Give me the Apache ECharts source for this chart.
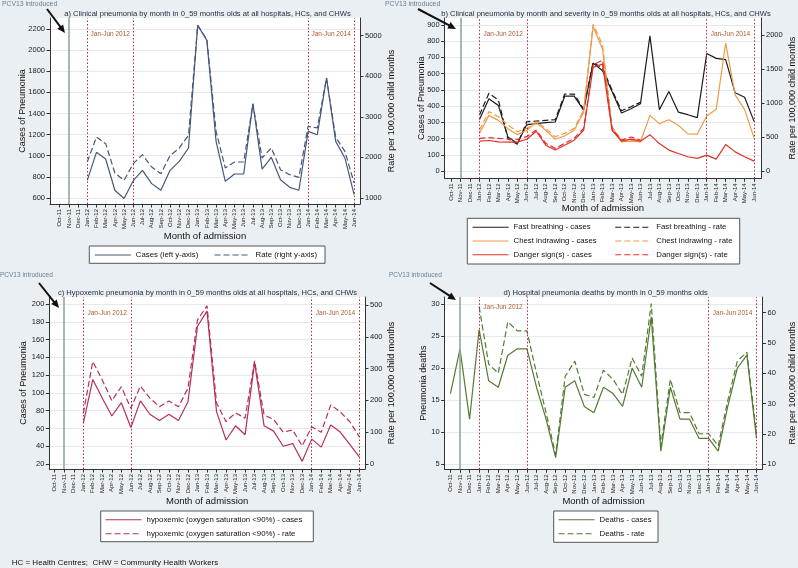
<!DOCTYPE html>
<html><head><meta charset="utf-8">
<script src="https://cdn.jsdelivr.net/npm/echarts@6/dist/echarts.min.js"></script>
<style>html,body{margin:0;padding:0;background:#e9eff3}#c{width:798px;height:568px}</style>
</head><body><div id="c"></div>
<script>
// ---------- DATA ----------
const months = ['Oct-11','Nov-11','Dec-11','Jan-12','Feb-12','Mar-12','Apr-12','May-12','Jun-12','Jul-12','Aug-12','Sep-12','Oct-12','Nov-12','Dec-12','Jan-13','Feb-13','Mar-13','Apr-13','May-13','Jun-13','Jul-13','Aug-13','Sep-13','Oct-13','Nov-13','Dec-13','Jan-14','Feb-14','Mar-14','Apr-14','May-14','Jun-14'];
const pcvMonth = 'Nov-11';
const periodMonths = [['Jan-12','Jun-12','Jan-Jun 2012'],['Jan-14','Jun-14','Jan-Jun 2014']];

// a) clinical pneumonia
const aCases = [null,null,null,767,1032,969,673,595,764,862,736,673,862,947,1073,2234,2092,1136,758,827,827,1493,874,985,773,701,673,1231,1199,1736,1136,979,632];
const aRate  = [null,null,null,1887,2504,2339,1616,1435,1846,2068,1764,1600,2044,2233,2545,5256,4903,2643,1740,1887,1887,3317,1986,2233,1698,1575,1509,2767,2726,3958,2495,2150,1370];
// b) by severity
const bFastCases  = [null,null,null,318,445,404,210,169,286,292,298,302,461,461,375,665,618,490,357,384,414,833,378,490,363,347,329,724,694,686,482,455,306];
const bFastRate   = [null,null,null,824,1142,1044,480,392,725,735,745,755,1132,1132,912,1598,1510,1191,887,946,1010];
const bChestCases = [null,null,null,231,343,312,261,224,251,298,251,196,216,251,363,890,751,261,180,184,180,343,292,316,282,229,227,339,380,788,469,378,204];
const bChestRate  = [null,null,null,603,873,799,676,578,627,725,627,505,554,627,897,2157,1853,652,446,456,446];
const bDangerCases= [null,null,null,184,188,180,178,178,196,245,159,129,159,190,251,639,659,251,184,196,184,224,169,129,108,88,78,98,73,163,118,88,61];
const bDangerRate = [null,null,null,480,490,480,470,466,505,603,407,333,407,480,627,1559,1632,627,456,500,456];
// c) hypoxemic
const cCases = [null,null,null,66,115,94,74,89,61,91,76,69,76,69,90,175,192,79,47,63,53,134,63,57,40,43,23,48,39,64,56,42,28];
const cRate  = [null,null,null,159,322,264,199,243,175,245,207,180,198,180,238,453,497,192,133,161,144,324,154,140,100,107,57,117,100,186,164,133,86];
// d) deaths
const dCases = [16,23,12,26,18,17,22,23,23,17,12,6,17,18,14,13,17,16,14,20,17,28,7,17,12,12,9,9,7,14,20,22,9];
const dRate  = [null,null,null,62,43,40,57,54,54,40,27,13,39,44,33,32,41,38,33,45,39,63,16,38,27,27,20,20,16,31,44,47,20];

// tick values
const aLeftTicks  = [600,800,1000,1200,1400,1600,1800,2000,2200];
const aRightTicks = [1000,2000,3000,4000,5000];
const bLeftTicks  = [0,100,200,300,400,500,600,700,800,900];
const bRightTicks = [0,500,1000,1500,2000];
const cLeftTicks  = [20,40,60,80,100,120,140,160,180,200];
const cRightTicks = [0,100,200,300,400,500];
const dLeftTicks  = [5,10,15,20,25,30];
const dRightTicks = [10,20,30,40,50,60];

// ---------- STYLE / LAYOUT ----------
const FONT = '"Liberation Sans", Arial, Helvetica, sans-serif';
const colA = '#47587a', colFast = '#1c1c1c', colChest = '#ef9a45', colDanger = '#e0302b', colC = '#b3305c', colD = '#557a34';
const DASH = [6,3];
const idx = months.map((m,i)=>i);
const pts = arr => arr.map((v,i)=>[i, v]);

const grids = [
  {left:50,    top:18,  width:310,   height:186},
  {left:444.7, top:18,  width:318.3, height:160.3},
  {left:49.3,  top:297, width:315.7, height:172},
  {left:444.7, top:297, width:323.3, height:172.3}
];
const xRange = [[-1.05,32.64],[-0.67,32.73],[-0.57,32.6],[-0.6,32.63]];
const yL = [[543,2304],[-45,943],[14.4,207.9],[4.17,31.1]];
const yR = [[852,5436],[-107,2250],[-15.7,525],[8.25,65.2]];
const leftTicks = [aLeftTicks,bLeftTicks,cLeftTicks,dLeftTicks];
const rightTicks = [aRightTicks,bRightTicks,cRightTicks,dRightTicks];
const leftNames = ['Cases of Pneumonia','Cases of Pneumonia','Cases of Pneumonia','Pneumonia deaths'];
const leftGaps = [22.5,19,21.5,17];
const rightGaps = [27.5,27,22,25.5];
const xNameGaps = [27.5,25.5,27.5,27.5];

const xAxes = grids.map((g,i)=>({
  type:'value', gridIndex:i, min:xRange[i][0], max:xRange[i][1],
  axisLine:{show:true,onZero:false,lineStyle:{color:'#333',width:1}},
  axisTick:{show:true,customValues:idx,length:3.5,lineStyle:{color:'#333'}},
  axisLabel:{customValues:idx,rotate:90,fontSize:6,color:'#222',margin:5,fontFamily:FONT,
    formatter:v=>months[Math.round(v)]||''},
  splitLine:{show:false},
  name:'Month of admission', nameLocation:'middle', nameGap:xNameGaps[i], nameMoveOverlap:false,
  nameTextStyle:{fontSize:9.5,color:'#111',fontFamily:FONT}
}));
const yAxes = [];
grids.forEach((g,i)=>{
  yAxes.push({
    type:'value', gridIndex:i, position:'left', min:yL[i][0], max:yL[i][1],
    axisLine:{show:true,onZero:false,lineStyle:{color:'#333',width:1}},
    axisTick:{show:true,customValues:leftTicks[i],length:3.5,lineStyle:{color:'#333'}},
    axisLabel:{customValues:leftTicks[i],fontSize:7.5,color:'#222',margin:5,fontFamily:FONT,formatter:v=>String(v)},
    splitLine:{show:true,lineStyle:{color:'#e3e9ee',width:1}},
    name:leftNames[i], nameLocation:'middle', nameGap:leftGaps[i], nameMoveOverlap:false,
    nameTextStyle:{fontSize:9,color:'#111',fontFamily:FONT}
  });
  yAxes.push({
    type:'value', gridIndex:i, position:'right', min:yR[i][0], max:yR[i][1],
    axisLine:{show:true,onZero:false,lineStyle:{color:'#333',width:1}},
    axisTick:{show:true,customValues:rightTicks[i],length:3.5,lineStyle:{color:'#333'}},
    axisLabel:{customValues:rightTicks[i],fontSize:7.5,color:'#222',margin:5,fontFamily:FONT,formatter:v=>String(v)},
    splitLine:{show:false},
    name:'Rate per 100,000 child months', nameLocation:'middle', nameGap:rightGaps[i], nameMoveOverlap:false,
    nameTextStyle:{fontSize:9,color:'#111',fontFamily:FONT}
  });
});

function vlines(){
  const data = [{xAxis:months.indexOf(pcvMonth), lineStyle:{color:'#8fa89c',width:1.6,type:'solid'}}];
  periodMonths.forEach(p=>{
    data.push({xAxis:months.indexOf(p[0]), lineStyle:{color:'#b3283a',width:1,type:[1.5,2]}});
    data.push({xAxis:months.indexOf(p[1]), lineStyle:{color:'#b3283a',width:1,type:[1.5,2]}});
  });
  return {silent:true,symbol:['none','none'],label:{show:false},animation:false,data};
}
function periods(d1,d2){
  return {silent:true,itemStyle:{color:'rgba(0,0,0,0)'},
    label:{show:true,position:'insideTop',fontSize:6.5,color:'#a85a36',fontFamily:FONT},
    data: periodMonths.map((p,k)=>[{name:p[2],xAxis:months.indexOf(p[0]),label:{distance:k===0?d1:d2}},{xAxis:months.indexOf(p[1])}])};
}
function line(name,data,gi,right,color,dashed,extra){
  return Object.assign({type:'line',name,data:pts(data),xAxisIndex:gi,yAxisIndex:gi*2+(right?1:0),
    symbol:'none',showSymbol:false,silent:true,animation:false,
    lineStyle:{color,width:1.2,type:dashed?DASH:'solid'},itemStyle:{color}},extra||{});
}

const series = [
  line('Cases (left y-axis)',aCases,0,false,colA,false,{markLine:vlines(),markArea:periods(13,13)}),
  line('Rate (right y-axis)',aRate,0,true,colA,true),
  line('Fast breathing - cases',bFastCases,1,false,colFast,false,{markLine:vlines(),markArea:periods(13,13)}),
  line('Fast breathing - rate',bFastRate,1,true,colFast,true),
  line('Chest indrawing - cases',bChestCases,1,false,colChest,false),
  line('Chest indrawing - rate',bChestRate,1,true,colChest,true),
  line('Danger sign(s) - cases',bDangerCases,1,false,colDanger,false),
  line('Danger sign(s) - rate',bDangerRate,1,true,colDanger,true),
  line('hypoxemic (oxygen saturation <90%) - cases',cCases,2,false,colC,false,{markLine:vlines(),markArea:periods(13,13)}),
  line('hypoxemic (oxygen saturation <90%) - rate',cRate,2,true,colC,true),
  line('Deaths - cases',dCases,3,false,colD,false,{markLine:vlines(),markArea:periods(6.5,12.5)}),
  line('Deaths - rate',dRate,3,true,colD,true)
];

const legBase = {itemWidth:36,itemHeight:8,selectedMode:false,padding:0,
  itemStyle:{opacity:0,borderWidth:0},
  lineStyle:{width:1.1},
  textStyle:{fontSize:7.8,color:'#111',fontFamily:FONT}};
const legends = [
  Object.assign({},legBase,{left:94.3,top:251,data:['Cases (left y-axis)']}),
  Object.assign({},legBase,{left:214,top:251,data:['Rate (right y-axis)']}),
  Object.assign({},legBase,{left:472,top:223.3,orient:'vertical',itemGap:5.7,data:['Fast breathing - cases','Chest indrawing - cases','Danger sign(s) - cases']}),
  Object.assign({},legBase,{left:614.7,top:223.3,orient:'vertical',itemGap:5.7,data:['Fast breathing - rate','Chest indrawing - rate','Danger sign(s) - rate']}),
  Object.assign({},legBase,{left:105,top:515.7,orient:'vertical',itemGap:6,data:['hypoxemic (oxygen saturation <90%) - cases','hypoxemic (oxygen saturation <90%) - rate']}),
  Object.assign({},legBase,{left:558,top:515.7,orient:'vertical',itemGap:6,data:['Deaths - cases','Deaths - rate']})
];

function txt(x,y,text,size,color,align){
  return {type:'text',x,y,silent:true,z:10,style:{text,fontSize:size,fontFamily:FONT,fill:color,align:align||'left',verticalAlign:'middle'}};
}
function arrow(x1,y1,x2,y2){
  const dx=x2-x1, dy=y2-y1, L=Math.hypot(dx,dy), ux=dx/L, uy=dy/L, hl=8, hw=3.6;
  const bx=x2-ux*hl, by=y2-uy*hl;
  return [
    {type:'line',silent:true,z:10,shape:{x1,y1,x2:bx+ux,y2:by+uy},style:{stroke:'#111',lineWidth:2}},
    {type:'polygon',silent:true,z:10,shape:{points:[[x2,y2],[bx-uy*hw,by+ux*hw],[bx+uy*hw,by-ux*hw]]},style:{fill:'#111'}}
  ];
}
function box(x,y,w,h){
  return {type:'rect',silent:true,z:1,shape:{x,y,width:w,height:h},style:{fill:'#fff',stroke:'#555',lineWidth:1}};
}
const titleCol = '#1e2a36', pcvCol = '#6b8093';
const graphics = [
  txt(207.5,14,'a) Clinical pneumonia by month in 0_59 months olds at all hospitals, HCs, and CHWs',7.6,titleCol,'center'),
  txt(606,14,'b) Clinical pneumonia by month and severity in 0_59 months olds at all hospitals, HCs, and CHWs',7.6,titleCol,'center'),
  txt(207.5,292.7,'c) Hypoxemic pneumonia by month in 0_59 months olds at all hospitals, HCs, and CHWs',7.6,titleCol,'center'),
  txt(605.7,292.7,'d) Hospital pneumonia deaths by month in 0_59 months olds',7.6,titleCol,'center'),
  txt(2,4,'PCV13 introduced',6.8,pcvCol),
  txt(385,4,'PCV13 introduced',6.8,pcvCol),
  txt(0,275.5,'PCV13 introduced',6.5,pcvCol),
  txt(389,275.5,'PCV13 introduced',6.5,pcvCol),
  txt(11.7,563,'HC = Health Centres;  CHW = Community Health Workers',8,'#111'),
  box(89.3,246,235.7,17.3),
  box(467.3,218.3,272.4,45.7),
  box(100.7,511,212.6,30.7),
  box(553.7,511,104.3,31.3),
  ...arrow(47,9,65,33),
  ...arrow(418,9,456,29),
  ...arrow(39,283,59,308),
  ...arrow(430,283,456,300)
];

const chart = echarts.init(document.getElementById('c'),null,{renderer:'canvas'});
chart.setOption({
  backgroundColor:'#e9eff3',
  animation:false,
  textStyle:{fontFamily:FONT},
  grid:grids.map(g=>Object.assign({show:true,backgroundColor:'#fff',borderWidth:0,containLabel:false},g)),
  xAxis:xAxes, yAxis:yAxes, series, legend:legends, graphic:graphics
});
</script></body></html>
